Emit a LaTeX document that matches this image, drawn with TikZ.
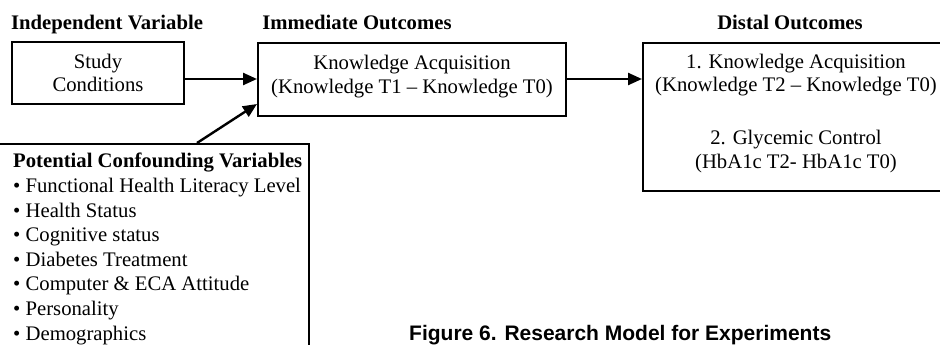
\documentclass[tikz,border=0pt]{standalone}
\usepackage{fontspec}
\setmainfont{Liberation Serif}
\newfontfamily\capfont{Liberation Sans}
\usetikzlibrary{arrows.meta}
\begin{document}
\begin{tikzpicture}[x=1pt,y=-1pt,
  box/.style={draw,line width=2.2pt,inner sep=0pt,align=center,font=\fontsize{20.7}{24}\selectfont},
  hdr/.style={anchor=base,font=\fontsize{20.7}{24}\selectfont\bfseries},
  txt/.style={anchor=base,align=center,inner sep=0pt,font=\fontsize{20.7}{23.5}\selectfont},
  arr/.style={line width=2.4pt,-{Triangle[length=14pt,width=12pt]}}]
\useasboundingbox (0,0) rectangle (940,345);
\clip (0,0) rectangle (940,345);
\node[hdr] (h1) at (107,30) {Independent Variable};
\node[hdr] (h2) at (357,30) {Immediate Outcomes};
\node[hdr] (h3) at (790,30) {Distal Outcomes};
\node[box,minimum width=172,minimum height=62] (study) at (98,73) {};
\node[txt] (st) at (98,92) {Study\\Conditions};
\node[box,minimum width=308,minimum height=73,anchor=north west] (know) at (257,42) {};
\node[txt] (kt) at (412,93) {Knowledge Acquisition\\(Knowledge T1 -- Knowledge T0)};
\node[box,minimum width=312,minimum height=148,anchor=north west] (distal) at (642,42) {};
\node[txt] (d1) at (796,92) {1. Knowledge Acquisition\\(Knowledge T2 -- Knowledge T0)};
\node[txt] (d2) at (796,168) {2. Glycemic Control\\(HbA1c T2- HbA1c T0)};
\node[box,minimum width=318,minimum height=230,anchor=north west] (conf) at (-10,143) {};
\node[anchor=base west,align=left,inner sep=0pt,font=\fontsize{20.7}{24.6}\selectfont] (ct) at (13,340)
 {\textbf{Potential Confounding Variables}\\
  \textbullet\ Functional Health Literacy Level\\
  \textbullet\ Health Status\\
  \textbullet\ Cognitive status\\
  \textbullet\ Diabetes Treatment\\
  \textbullet\ Computer \& ECA Attitude\\
  \textbullet\ Personality\\
  \textbullet\ Demographics};
\node[anchor=base west,inner sep=0pt,font=\capfont\bfseries\fontsize{21}{24}\selectfont] (cap) at (409,340) {Figure 6. Research Model for Experiments};
\coordinate (c1) at (197,143);
\coordinate (k1) at (257,104);
\draw[arr] (study.east |- 0,79) -- (know.west |- 0,79);
\draw[arr] (know.east |- 0,79) -- (distal.west |- 0,79);
\draw[arr] (c1) -- (k1);
\end{tikzpicture}
\end{document}
